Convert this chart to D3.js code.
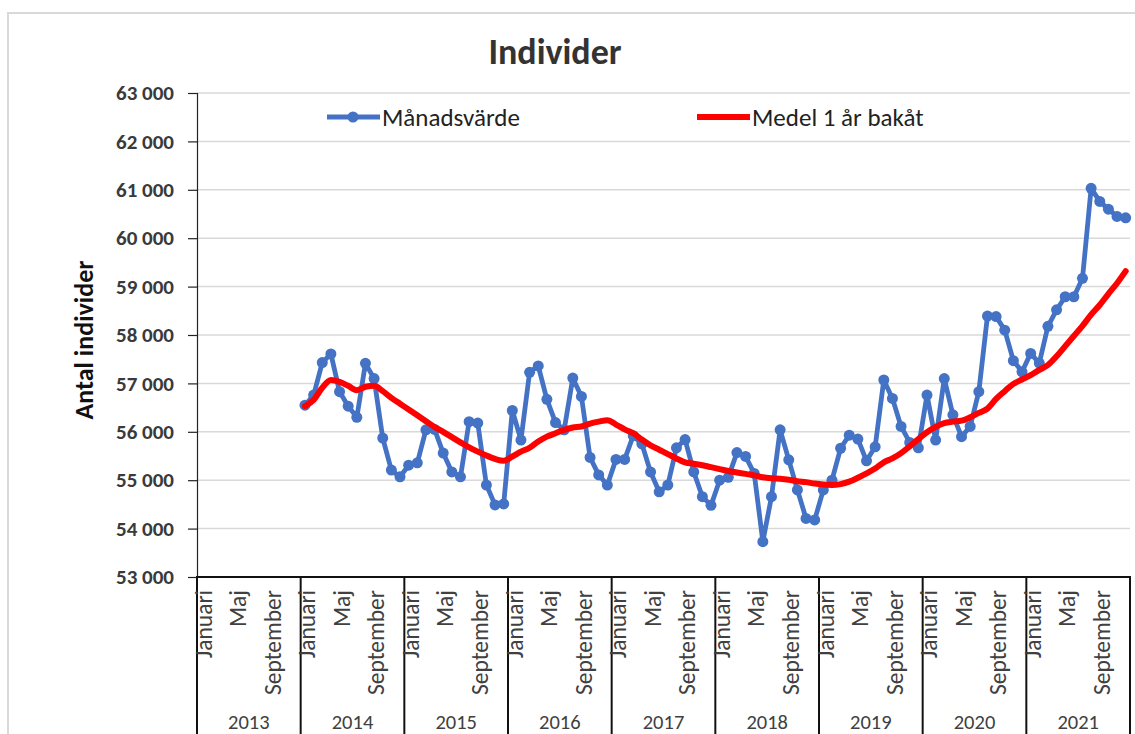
<!DOCTYPE html>
<html>
<head>
<meta charset="utf-8">
<script src="https://cdn.jsdelivr.net/npm/d3@7"></script>
<style>
  body { margin: 0; background: #fff; }
  text { font-family: Carlito, Calibri, Lato, sans-serif; }
</style>
</head>
<body>
<div id="chart"></div>
<script>
// ===== Data =====
const monthNames = ["Januari", "Februari", "Mars", "April", "Maj", "Juni", "Juli",
  "Augusti", "September", "Oktober", "November", "December"];
const labelMonths = ["Januari", "Maj", "September"];
const years = [2013, 2014, 2015, 2016, 2017, 2018, 2019, 2020, 2021];
const firstYear = 2014; // first month with values: Januari 2014
const yTicks = [53000, 54000, 55000, 56000, 57000, 58000, 59000, 60000, 61000, 62000, 63000];

// Månadsvärde, Jan 2014 -> Dec 2021
const monthly = [
  56550, 56760, 57430, 57610, 56830, 56530, 56300, 57415, 57100, 55870, 55210, 55070,
  55310, 55360, 56040, 56050, 55560, 55170, 55070, 56210, 56180, 54900, 54490, 54510,
  56440, 55830, 57230, 57360, 56670, 56190, 56040, 57110, 56730, 55470, 55110, 54900,
  55430, 55430, 55920, 55750, 55170, 54760, 54900, 55670, 55840, 55170, 54660, 54480,
  55000, 55060, 55570, 55490, 55140, 53730, 54660, 56040, 55420, 54800, 54210, 54180,
  54800, 55000, 55660, 55930, 55850, 55400, 55690, 57070, 56690, 56110, 55780, 55670,
  56760, 55830, 57100, 56350, 55900, 56110, 56830, 58390, 58380, 58100, 57470, 57240,
  57620, 57420, 58180, 58520, 58790, 58790, 59170, 61030, 60760, 60600, 60450, 60420
];

// Medel 1 år bakåt, Jan 2014 -> Dec 2021
const average = [
  56530, 56660, 56910, 57070, 57030, 56950, 56860, 56930, 56950, 56840, 56700, 56580,
  56460, 56340, 56220, 56100, 56000, 55890, 55780, 55680, 55590, 55510, 55440, 55400,
  55490, 55590, 55670, 55800, 55900, 55970, 56040, 56090, 56110, 56170, 56210, 56240,
  56150, 56050, 55970, 55840, 55720, 55630, 55540, 55450, 55370, 55340, 55310, 55270,
  55230, 55190, 55160, 55130, 55100, 55060, 55040, 55030, 55010, 54980, 54960, 54930,
  54910, 54900, 54920, 54970, 55050, 55140, 55240, 55370, 55450, 55560, 55700, 55850,
  55990, 56100, 56180, 56210, 56230, 56300, 56390, 56480, 56680, 56840, 56990, 57080,
  57170, 57280, 57380, 57560, 57770, 57980, 58190, 58420, 58620, 58850, 59070, 59320
];

const W = 1135, H = 734;
const plot = { left: 197, right: 1130, top: 93, bottom: 577 };
const textColor = "#404040";

const svg = d3.select("#chart").append("svg")
  .attr("width", W)
  .attr("height", H);

// outer chart border
svg.append("rect")
  .attr("x", 8).attr("y", 13)
  .attr("width", W + 20).attr("height", H + 20)
  .attr("fill", "#fff")
  .attr("stroke", "#d9d9d9")
  .attr("stroke-width", 2);

// ===== Scales =====
const monthKeys = [];
years.forEach((y) => monthNames.forEach((m, i) => monthKeys.push(`${y}-${i}`)));

const x = d3.scaleBand().domain(monthKeys).range([plot.left, plot.right]);
const xYear = d3.scaleBand().domain(years).range([plot.left, plot.right]);
const y = d3.scaleLinear().domain([53000, 63000]).range([plot.bottom, plot.top]);

const series = monthly.map((v, i) => ({
  key: `${firstYear + Math.floor(i / 12)}-${i % 12}`,
  value: v,
  avg: average[i]
}));
const cx = (d) => x(d.key) + x.bandwidth() / 2;

// ===== Gridlines + y axis =====
const fmt = (v) => d3.format(",")(v).replace(",", " ");

svg.append("g")
  .selectAll("line")
  .data(yTicks.filter((t) => t > 53000))
  .join("line")
  .attr("x1", plot.left).attr("x2", plot.right)
  .attr("y1", (d) => y(d)).attr("y2", (d) => y(d))
  .attr("stroke", "#d9d9d9")
  .attr("stroke-width", 1.5);

const yAxis = svg.append("g")
  .attr("transform", `translate(${plot.left},0)`)
  .call(d3.axisLeft(y).tickValues(yTicks).tickSize(9).tickPadding(14).tickFormat(fmt));
yAxis.select(".domain").attr("stroke", "#222").attr("stroke-width", 1.2);
yAxis.selectAll(".tick line").attr("stroke", "#222").attr("stroke-width", 1.2);
yAxis.selectAll("text")
  .attr("fill", "#3a3a3a")
  .style("font-size", "21px")
  .style("font-weight", "bold");

svg.append("text")
  .attr("transform", `translate(84,340) rotate(-90)`)
  .attr("text-anchor", "middle")
  .attr("dy", "0.35em")
  .attr("fill", "#111")
  .style("font-size", "26px")
  .style("font-weight", "bold")
  .text("Antal individer");

// ===== Category axis (months + years) =====
const xAxis = svg.append("g");
xAxis.append("line")
  .attr("x1", plot.left - 1).attr("x2", plot.right + 1)
  .attr("y1", plot.bottom).attr("y2", plot.bottom)
  .attr("stroke", "#111").attr("stroke-width", 2);

xAxis.selectAll(".sep")
  .data(years.concat([null]))
  .join("line")
  .attr("class", "sep")
  .attr("x1", (d) => (d === null ? plot.right : xYear(d)))
  .attr("x2", (d) => (d === null ? plot.right : xYear(d)))
  .attr("y1", plot.bottom).attr("y2", H)
  .attr("stroke", "#111").attr("stroke-width", 2);

const monthLabels = [];
years.forEach((yr) => labelMonths.forEach((m) =>
  monthLabels.push({ key: `${yr}-${monthNames.indexOf(m)}`, name: m })));

xAxis.selectAll(".mlabel")
  .data(monthLabels)
  .join("text")
  .attr("class", "mlabel")
  .attr("transform", (d) => `translate(${x(d.key) + x.bandwidth() / 2 + 2},${plot.bottom + 13}) rotate(-90)`)
  .attr("text-anchor", "end")
  .attr("dy", "0.35em")
  .attr("fill", textColor)
  .style("font-size", "23.5px")
  .text((d) => d.name);

xAxis.selectAll(".ylabel")
  .data(years)
  .join("text")
  .attr("class", "ylabel")
  .attr("x", (d) => xYear(d) + xYear.bandwidth() / 2)
  .attr("y", 729)
  .attr("text-anchor", "middle")
  .attr("fill", textColor)
  .style("font-size", "20.5px")
  .text((d) => d);

// ===== Lines =====
const lineMonthly = d3.line().x(cx).y((d) => y(d.value));
const lineAvg = d3.line().x(cx).y((d) => y(d.avg)).curve(d3.curveMonotoneX);

svg.append("path")
  .datum(series)
  .attr("fill", "none")
  .attr("stroke", "#4472c4")
  .attr("stroke-width", 4.8)
  .attr("stroke-linejoin", "round")
  .attr("d", lineMonthly);

svg.append("g")
  .selectAll("circle")
  .data(series)
  .join("circle")
  .attr("cx", cx)
  .attr("cy", (d) => y(d.value))
  .attr("r", 5.5)
  .attr("fill", "#4472c4");

svg.append("path")
  .datum(series)
  .attr("fill", "none")
  .attr("stroke", "#ff0000")
  .attr("stroke-width", 6)
  .attr("stroke-linejoin", "round")
  .attr("stroke-linecap", "round")
  .attr("d", lineAvg);

// ===== Title + legend =====
svg.append("text")
  .attr("x", 555).attr("y", 64)
  .attr("text-anchor", "middle")
  .attr("fill", "#333")
  .style("font-size", "36px")
  .style("font-weight", "bold")
  .text("Individer");

const legend = [
  { name: "Månadsvärde", color: "#4472c4", x: 327, marker: true, w: 4.8 },
  { name: "Medel 1 år bakåt", color: "#ff0000", x: 697, marker: false, w: 6 }
];
const lg = svg.append("g").selectAll("g").data(legend).join("g")
  .attr("transform", (d) => `translate(${d.x},117)`);
lg.append("line")
  .attr("x1", 0).attr("x2", 53)
  .attr("stroke", (d) => d.color)
  .attr("stroke-width", (d) => d.w);
lg.filter((d) => d.marker).append("circle")
  .attr("cx", 26).attr("r", 5.5).attr("fill", (d) => d.color);
lg.append("text")
  .attr("x", 55)
  .attr("dy", "0.35em")
  .attr("fill", "#222")
  .style("font-size", "25px")
  .text((d) => d.name);
</script>
</body>
</html>
